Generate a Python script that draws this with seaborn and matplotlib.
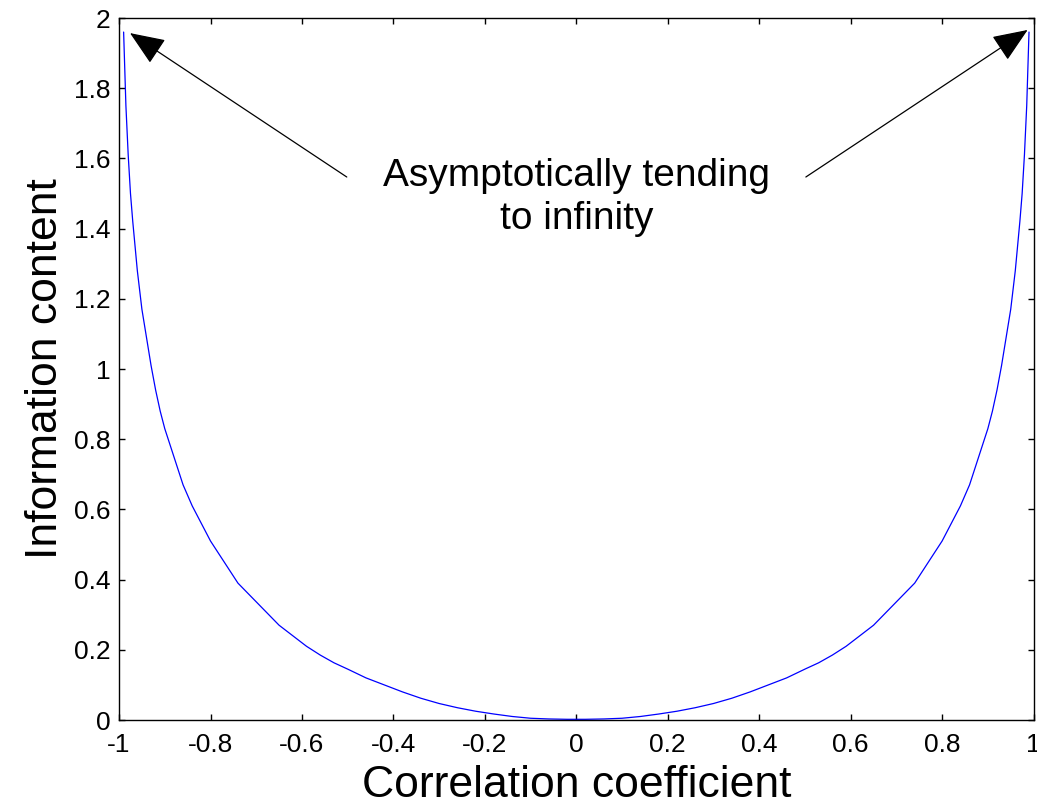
import matplotlib
matplotlib.use("Agg")
import matplotlib.pyplot as plt
import seaborn as sns
import pandas as pd
from matplotlib.ticker import FixedLocator, FuncFormatter

# Data
r_neg = [-0.99, -0.985, -0.98, -0.975, -0.97, -0.96, -0.95, -0.94, -0.93, -0.92,
         -0.91, -0.90, -0.88, -0.86, -0.84, -0.82, -0.80, -0.77, -0.74, -0.71,
         -0.68, -0.65, -0.62, -0.59, -0.56, -0.53, -0.50, -0.46, -0.42, -0.38,
         -0.34, -0.30, -0.26, -0.22, -0.18, -0.14, -0.10, -0.06, -0.02]
info_neg = [1.96, 1.75, 1.61, 1.50, 1.42, 1.28, 1.17, 1.09, 1.01, 0.94,
            0.88, 0.83, 0.75, 0.67, 0.61, 0.56, 0.51, 0.45, 0.39, 0.35,
            0.31, 0.27, 0.24, 0.21, 0.185, 0.163, 0.145, 0.12, 0.10, 0.08,
            0.062, 0.047, 0.035, 0.025, 0.017, 0.010, 0.005, 0.003, 0.002]
r_pos = [0.02, 0.06, 0.10, 0.14, 0.18, 0.22, 0.26, 0.30, 0.34, 0.38,
         0.42, 0.46, 0.50, 0.53, 0.56, 0.59, 0.62, 0.65, 0.68, 0.71,
         0.74, 0.77, 0.80, 0.82, 0.84, 0.86, 0.88, 0.90, 0.91, 0.92,
         0.93, 0.94, 0.95, 0.96, 0.97, 0.975, 0.98, 0.985, 0.99]
info_pos = [0.002, 0.003, 0.005, 0.010, 0.017, 0.025, 0.035, 0.047, 0.062, 0.08,
            0.10, 0.12, 0.145, 0.163, 0.185, 0.21, 0.24, 0.27, 0.31, 0.35,
            0.39, 0.45, 0.51, 0.56, 0.61, 0.67, 0.75, 0.83, 0.88, 0.94,
            1.01, 1.09, 1.17, 1.28, 1.42, 1.50, 1.61, 1.75, 1.96]

x_ticks = [-1, -0.8, -0.6, -0.4, -0.2, 0, 0.2, 0.4, 0.6, 0.8, 1]
y_ticks = [0, 0.2, 0.4, 0.6, 0.8, 1, 1.2, 1.4, 1.6, 1.8, 2]

sns.set_style("ticks")
plt.rcParams['font.family'] = ['Liberation Sans', 'DejaVu Sans']
plt.rcParams['axes.unicode_minus'] = False
plt.rcParams['text.color'] = 'black'
plt.rcParams['axes.labelcolor'] = 'black'

df = pd.DataFrame({"r": r_neg + r_pos, "info": info_neg + info_pos})

fig = plt.figure(figsize=(10.37, 8.11), dpi=100)
ax = fig.add_axes([0.1148, 0.1122, 0.8819, 0.8656])

sns.lineplot(data=df, x="r", y="info", ax=ax, color="#0000ff", linewidth=0.9,
             sort=True, estimator=None)

ax.set_xlim(-1, 1)
ax.set_ylim(0, 2)
ax.xaxis.set_major_locator(FixedLocator(x_ticks))
ax.yaxis.set_major_locator(FixedLocator(y_ticks))
fmt = FuncFormatter(lambda v, p: "%g" % round(v, 2))
ax.xaxis.set_major_formatter(fmt)
ax.yaxis.set_major_formatter(fmt)

for s in ax.spines.values():
    s.set_visible(True)
    s.set_color("black")
    s.set_linewidth(1.0)

ax.tick_params(axis="both", which="major", direction="in", length=4, width=1,
               top=True, right=True, labelsize=19, colors="black")
ax.tick_params(axis="x", pad=9)
ax.tick_params(axis="y", pad=6)

ax.set_xlabel("Correlation coefficient", fontsize=32, labelpad=6, color="black")
ax.set_ylabel("Information content", fontsize=32, labelpad=6, color="black")

ax.text(0.0, 1.49, "Asymptotically tending\nto infinity", ha="center",
        va="center", fontsize=28, linespacing=1.25, color="black")

arrow_kw = dict(arrowstyle="-|>,head_length=1.1,head_width=0.45",
                color="black", lw=0.9, mutation_scale=20, shrinkA=0, shrinkB=0)
ax.annotate("", xy=(-0.976, 1.957), xytext=(-0.502, 1.547),
            arrowprops=arrow_kw)
ax.annotate("", xy=(0.987, 1.966), xytext=(0.502, 1.547),
            arrowprops=arrow_kw)

fig.savefig("out.png", dpi=100)
